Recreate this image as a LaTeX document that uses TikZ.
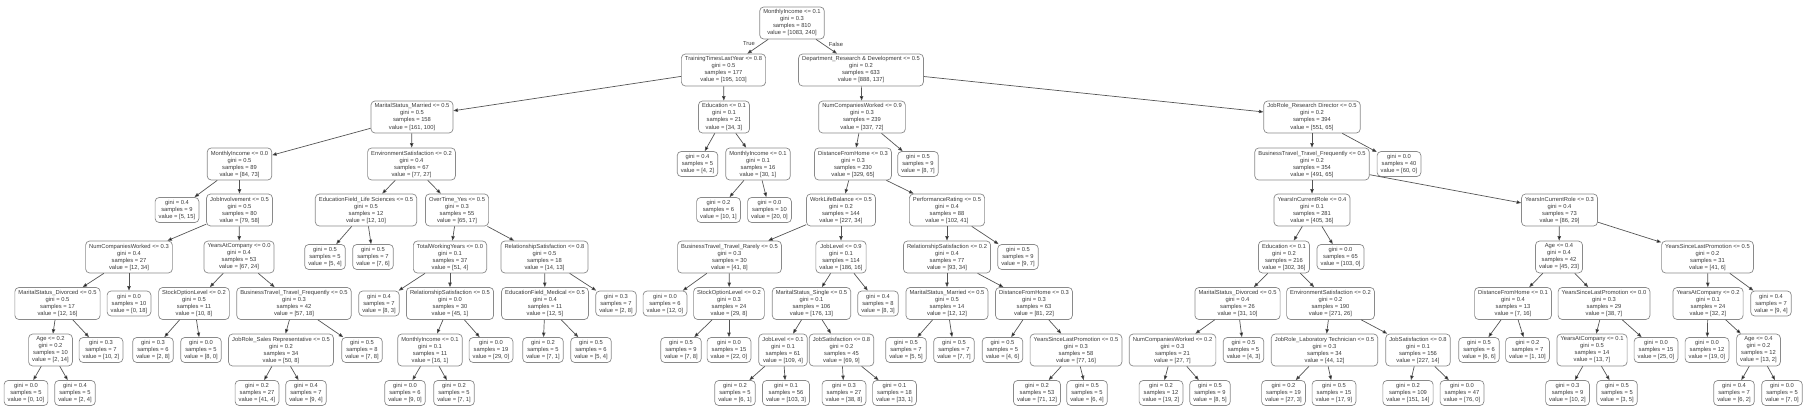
\documentclass[tikz,border=0pt]{standalone}
\usepackage{fontspec}
\setmainfont{Liberation Sans}
\usetikzlibrary{arrows.meta}
\definecolor{txtcol}{HTML}{3A3A3A}
\definecolor{bordcol}{HTML}{8A8A8A}
\definecolor{conncol}{HTML}{555555}
\tikzset{
  tn/.style={draw=bordcol, rounded corners=4pt, fill=white, align=center,
    font=\fontsize{5.8}{7}\selectfont, text=txtcol, inner xsep=3.6pt, inner ysep=2.8pt, line width=0.7pt},
  conn/.style={draw=conncol, line width=0.7pt, -{Triangle[length=4.5pt,width=3.4pt,fill=black]}},
  lbl/.style={font=\fontsize{5.8}{7}\selectfont, text=txtcol, inner sep=0pt}
}
\newcommand\TNode[7]{\node[tn] (#1) at (#2,-#3) {#4\\gini = #5\\samples = #6\\value = #7};}
\newcommand\TLeaf[6]{\node[tn] (#1) at (#2,-#3) {gini = #4\\samples = #5\\value = #6};}
\begin{document}
\begin{tikzpicture}[x=1pt,y=1pt]
\useasboundingbox (0,0) rectangle (1817,-420);
% L0
\TNode{root}{792}{23}{MonthlyIncome <= 0.1}{0.3}{810}{[1083, 240]}
% L1
\TNode{a}{723.5}{70}{TrainingTimesLastYear <= 0.8}{0.5}{177}{[195, 103]}
\TNode{b}{861}{70}{Department\_Research \& Development <= 0.5}{0.2}{633}{[888, 137]}
% L2
\TNode{c}{412}{117}{MaritalStatus\_Married <= 0.5}{0.5}{158}{[161, 100]}
\TNode{d}{724}{117}{Education <= 0.1}{0.1}{21}{[34, 3]}
\TNode{e}{862}{117}{NumCompaniesWorked <= 0.9}{0.3}{239}{[337, 72]}
\TNode{f}{1312}{117}{JobRole\_Research Director <= 0.5}{0.2}{394}{[551, 65]}
% L3
\TNode{c1}{239.5}{164}{MonthlyIncome <= 0.0}{0.5}{89}{[84, 73]}
\TNode{c2}{411.5}{164}{EnvironmentSatisfaction <= 0.2}{0.4}{67}{[77, 27]}
\TLeaf{d1}{697.5}{164}{0.4}{5}{[4, 2]}
\TNode{d2}{758}{164}{MonthlyIncome <= 0.1}{0.1}{16}{[30, 1]}
\TNode{e1}{853}{164}{DistanceFromHome <= 0.3}{0.3}{230}{[329, 65]}
\TLeaf{e2}{918}{164}{0.5}{9}{[8, 7]}
\TNode{f1}{1312}{164}{BusinessTravel\_Travel\_Frequently <= 0.5}{0.2}{354}{[491, 65]}
\TLeaf{f2}{1399}{164}{0.0}{40}{[60, 0]}
% L4
\TLeaf{c11}{177}{210}{0.4}{9}{[5, 15]}
\TNode{c12}{239.5}{210}{JobInvolvement <= 0.5}{0.5}{80}{[79, 58]}
\TNode{c21}{366}{210}{EducationField\_Life Sciences <= 0.5}{0.5}{12}{[12, 10]}
\TNode{c22}{457}{210}{OverTime\_Yes <= 0.5}{0.3}{55}{[65, 17]}
\TLeaf{d21}{718.5}{210}{0.2}{6}{[10, 1]}
\TLeaf{d22}{769.5}{210}{0.0}{10}{[20, 0]}
\TNode{e11}{841}{210}{WorkLifeBalance <= 0.5}{0.2}{144}{[227, 34]}
\TNode{e12}{947}{210}{PerformanceRating <= 0.5}{0.4}{88}{[102, 41]}
\TNode{f11}{1312}{210}{YearsInCurrentRole <= 0.4}{0.1}{281}{[405, 36]}
\TNode{f12}{1559.5}{210}{YearsInCurrentRole <= 0.3}{0.4}{73}{[86, 29]}
% L5
\TNode{c121}{129}{257}{NumCompaniesWorked <= 0.3}{0.4}{27}{[12, 34]}
\TNode{c122}{239}{257}{YearsAtCompany <= 0.0}{0.4}{53}{[67, 24]}
\TLeaf{c211}{325}{257}{0.5}{5}{[5, 4]}
\TLeaf{c212}{373}{257}{0.5}{7}{[7, 6]}
\TNode{c221}{450}{257}{TotalWorkingYears <= 0.0}{0.1}{37}{[51, 4]}
\TNode{c222}{544.5}{257}{RelationshipSatisfaction <= 0.8}{0.5}{18}{[14, 13]}
\TNode{e111}{729.5}{257}{BusinessTravel\_Travel\_Rarely <= 0.5}{0.3}{30}{[41, 8]}
\TNode{e112}{841}{257}{JobLevel <= 0.9}{0.1}{114}{[186, 16]}
\TNode{e121}{947}{257}{RelationshipSatisfaction <= 0.2}{0.4}{77}{[93, 34]}
\TLeaf{e122}{1018}{257}{0.5}{9}{[9, 7]}
\TNode{f111}{1284}{257}{Education <= 0.1}{0.2}{216}{[302, 36]}
\TLeaf{f112}{1340.5}{257}{0.0}{65}{[103, 0]}
\TNode{f121}{1559}{257}{Age <= 0.4}{0.4}{42}{[45, 23]}
\TNode{f122}{1707.5}{257}{YearsSinceLastPromotion <= 0.5}{0.2}{31}{[41, 6]}
% L6
\TNode{c1211}{57.5}{303.5}{MaritalStatus\_Divorced <= 0.5}{0.5}{17}{[12, 16]}
\TLeaf{c1212}{129}{303.5}{0.0}{10}{[0, 18]}
\TNode{c1221}{194}{303.5}{StockOptionLevel <= 0.2}{0.5}{11}{[10, 8]}
\TNode{c1222}{294}{303.5}{BusinessTravel\_Travel\_Frequently <= 0.5}{0.3}{42}{[57, 18]}
\TLeaf{c2211}{379}{303.5}{0.4}{7}{[8, 3]}
\TNode{c2212}{450}{303.5}{RelationshipSatisfaction <= 0.5}{0.0}{30}{[45, 1]}
\TNode{c2221}{545}{303.5}{EducationField\_Medical <= 0.5}{0.4}{11}{[12, 5]}
\TLeaf{c2222}{616}{303.5}{0.3}{7}{[2, 8]}
\TLeaf{e1111}{665}{303.5}{0.0}{6}{[12, 0]}
\TNode{e1112}{729}{303.5}{StockOptionLevel <= 0.2}{0.3}{24}{[29, 8]}
\TNode{e1121}{811.5}{303.5}{MaritalStatus\_Single <= 0.5}{0.1}{106}{[176, 13]}
\TLeaf{e1122}{878}{303.5}{0.4}{8}{[8, 3]}
\TNode{e1211}{947}{303.5}{MaritalStatus\_Married <= 0.5}{0.5}{14}{[12, 12]}
\TNode{e1212}{1034}{303.5}{DistanceFromHome <= 0.3}{0.3}{63}{[81, 22]}
\TNode{f1111}{1237.5}{303.5}{MaritalStatus\_Divorced <= 0.5}{0.4}{26}{[31, 10]}
\TNode{f1112}{1330.5}{303.5}{EnvironmentSatisfaction <= 0.2}{0.2}{190}{[271, 26]}
\TNode{f1211}{1513}{303.5}{DistanceFromHome <= 0.1}{0.4}{13}{[7, 16]}
\TNode{f1212}{1604}{303.5}{YearsSinceLastPromotion <= 0.0}{0.3}{29}{[38, 7]}
\TNode{f1221}{1708}{303.5}{YearsAtCompany <= 0.2}{0.1}{24}{[32, 2]}
\TLeaf{f1222}{1771}{303.5}{0.4}{7}{[9, 4]}
% L7
\TNode{c12111}{50.5}{350}{Age <= 0.2}{0.2}{10}{[2, 14]}
\TLeaf{c12112}{101}{350}{0.3}{7}{[10, 2]}
\TLeaf{c12211}{153}{350}{0.3}{6}{[2, 8]}
\TLeaf{c12212}{201}{350}{0.0}{5}{[8, 0]}
\TNode{c12221}{281}{350}{JobRole\_Sales Representative <= 0.5}{0.2}{34}{[50, 8]}
\TLeaf{c12222}{362}{350}{0.5}{8}{[7, 8]}
\TNode{c22121}{430}{350}{MonthlyIncome <= 0.1}{0.1}{11}{[16, 1]}
\TLeaf{c22122}{491}{350}{0.0}{19}{[29, 0]}
\TLeaf{c22211}{543}{350}{0.2}{5}{[7, 1]}
\TLeaf{c22212}{591}{350}{0.5}{6}{[5, 4]}
\TLeaf{e11121}{681}{350}{0.5}{9}{[7, 8]}
\TLeaf{e11122}{729}{350}{0.0}{15}{[22, 0]}
\TNode{e11211}{783}{350}{JobLevel <= 0.1}{0.1}{61}{[109, 4]}
\TNode{e11212}{841.5}{350}{JobSatisfaction <= 0.8}{0.2}{45}{[69, 9]}
\TLeaf{e12111}{906}{350}{0.5}{7}{[5, 5]}
\TLeaf{e12112}{954}{350}{0.5}{7}{[7, 7]}
\TLeaf{e12121}{1002.5}{350}{0.5}{5}{[4, 6]}
\TNode{e12122}{1076}{350}{YearsSinceLastPromotion <= 0.5}{0.3}{58}{[77, 16]}
\TNode{f11111}{1172.5}{350}{NumCompaniesWorked <= 0.2}{0.3}{21}{[27, 7]}
\TLeaf{f11112}{1243.5}{350}{0.5}{5}{[4, 3]}
\TNode{f11121}{1324.5}{350}{JobRole\_Laboratory Technician <= 0.5}{0.3}{34}{[44, 12]}
\TNode{f11122}{1418}{350}{JobSatisfaction <= 0.8}{0.1}{156}{[227, 14]}
\TLeaf{f12111}{1479}{350}{0.5}{6}{[6, 6]}
\TLeaf{f12112}{1527.5}{350}{0.2}{7}{[1, 10]}
\TNode{f12121}{1592}{350}{YearsAtCompany <= 0.1}{0.5}{14}{[13, 7]}
\TLeaf{f12122}{1656}{350}{0.0}{15}{[25, 0]}
\TLeaf{f12211}{1707}{350}{0.0}{12}{[19, 0]}
\TNode{f12212}{1758.5}{350}{Age <= 0.4}{0.2}{12}{[13, 2]}
% L8
\TLeaf{c121111}{26}{393}{0.0}{5}{[0, 10]}
\TLeaf{c121112}{75}{393}{0.4}{5}{[2, 4]}
\TLeaf{c122211}{257}{393}{0.2}{27}{[41, 4]}
\TLeaf{c122212}{306}{393}{0.4}{7}{[9, 4]}
\TLeaf{c221211}{405}{393}{0.0}{6}{[9, 0]}
\TLeaf{c221212}{454}{393}{0.2}{5}{[7, 1]}
\TLeaf{e112111}{735}{393}{0.2}{5}{[6, 1]}
\TLeaf{e112112}{786}{393}{0.1}{56}{[103, 3]}
\TLeaf{e112121}{844}{393}{0.3}{27}{[38, 8]}
\TLeaf{e112122}{894.5}{393}{0.1}{18}{[33, 1]}
\TLeaf{e121221}{1037}{393}{0.2}{53}{[71, 12]}
\TLeaf{e121222}{1087}{393}{0.5}{5}{[6, 4]}
\TLeaf{f111111}{1161}{393}{0.2}{12}{[19, 2]}
\TLeaf{f111112}{1210}{393}{0.5}{9}{[8, 5]}
\TLeaf{f111211}{1283.5}{393}{0.2}{19}{[27, 3]}
\TLeaf{f111212}{1334}{393}{0.5}{15}{[17, 9]}
\TLeaf{f111221}{1408}{393}{0.2}{109}{[151, 14]}
\TLeaf{f111222}{1462}{393}{0.0}{47}{[76, 0]}
\TLeaf{f121211}{1567.5}{393}{0.3}{9}{[10, 2]}
\TLeaf{f121212}{1617}{393}{0.5}{5}{[3, 5]}
\TLeaf{f122121}{1734}{393}{0.4}{7}{[6, 2]}
\TLeaf{f122122}{1782}{393}{0.0}{5}{[7, 0]}
% edges
\foreach \p/\q in {root/a,root/b,a/c,a/d,b/e,b/f,
  c/c1,c/c2,d/d1,d/d2,e/e1,e/e2,f/f1,f/f2,
  c1/c11,c1/c12,c2/c21,c2/c22,d2/d21,d2/d22,e1/e11,e1/e12,f1/f11,f1/f12,
  c12/c121,c12/c122,c21/c211,c21/c212,c22/c221,c22/c222,e11/e111,e11/e112,e12/e121,e12/e122,f11/f111,f11/f112,f12/f121,f12/f122,
  c121/c1211,c121/c1212,c122/c1221,c122/c1222,c221/c2211,c221/c2212,c222/c2221,c222/c2222,e111/e1111,e111/e1112,e112/e1121,e112/e1122,e121/e1211,e121/e1212,f111/f1111,f111/f1112,f121/f1211,f121/f1212,f122/f1221,f122/f1222,
  c1211/c12111,c1211/c12112,c1221/c12211,c1221/c12212,c1222/c12221,c1222/c12222,c2212/c22121,c2212/c22122,c2221/c22211,c2221/c22212,e1112/e11121,e1112/e11122,e1121/e11211,e1121/e11212,e1211/e12111,e1211/e12112,e1212/e12121,e1212/e12122,f1111/f11111,f1111/f11112,f1112/f11121,f1112/f11122,f1211/f12111,f1211/f12112,f1212/f12121,f1212/f12122,f1221/f12211,f1221/f12212,
  c12111/c121111,c12111/c121112,c12221/c122211,c12221/c122212,c22121/c221211,c22121/c221212,e11211/e112111,e11211/e112112,e11212/e112121,e11212/e112122,e12122/e121221,e12122/e121222,f11111/f111111,f11111/f111112,f11121/f111211,f11121/f111212,f11122/f111221,f11122/f111222,f12121/f121211,f12121/f121212,f12212/f122121,f12212/f122122}
  {\draw[conn] (\p) -- (\q);}
\node[lbl] (tlab) at (749,-44) {True};
\node[lbl] (flab) at (836,-44) {False};
\end{tikzpicture}
\end{document}
